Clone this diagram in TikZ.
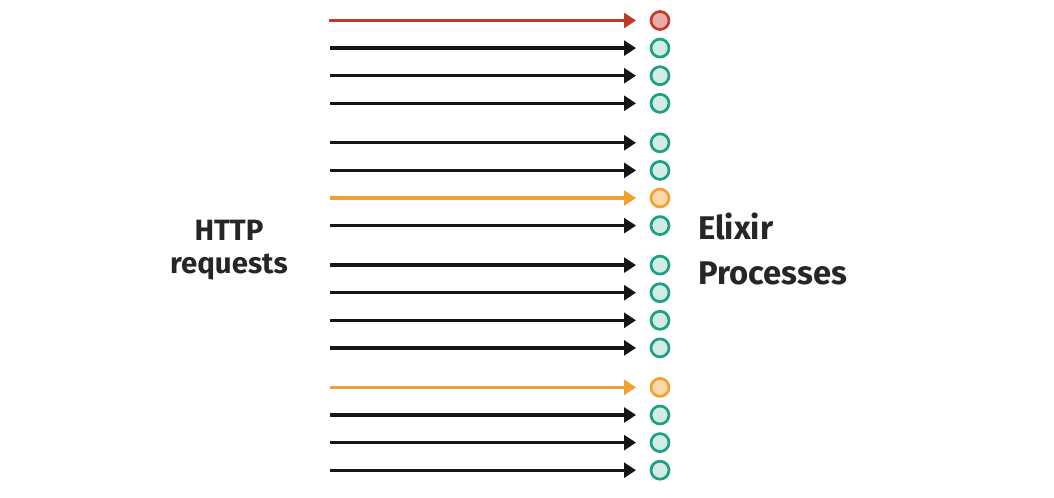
\documentclass[tikz,border=0pt]{standalone}
\usepackage{fontspec}
\setmainfont{Fira Sans}
\usetikzlibrary{arrows.meta}

\definecolor{reqblack}{RGB}{22,22,22}
\definecolor{failred}{RGB}{192,57,43}
\definecolor{failredfill}{RGB}{232,172,168}
\definecolor{slowamber}{RGB}{241,160,45}
\definecolor{slowamberfill}{RGB}{251,216,172}
\definecolor{oktea}{RGB}{26,160,132}
\definecolor{okteafill}{RGB}{210,236,228}
\definecolor{labelgray}{RGB}{38,38,38}

\begin{document}
\begin{tikzpicture}[x=0.025cm,y=-0.025cm,
    proc/.style={draw=oktea,fill=okteafill,circle,line width=1.9pt,inner sep=0pt,minimum size=0.45cm},
    procred/.style={proc,draw=failred,fill=failredfill},
    procamber/.style={proc,draw=slowamber,fill=slowamberfill},
    req/.style={draw=reqblack,line width=2.4pt,-{Triangle[length=8.5pt,width=10.5pt]},shorten >=0.34cm},
    reqred/.style={req,draw=failred},
    reqamber/.style={req,draw=slowamber},
    caption/.style={font=\bfseries,text=labelgray,inner sep=0pt}]
        \useasboundingbox (0,0) rectangle (1054,498);

        % processes
        \node[procred] (proc1) at (660,20.5) {};
        \node[proc] (proc2) at (660,48.1) {};
        \node[proc] (proc3) at (660,75.7) {};
        \node[proc] (proc4) at (660,103.3) {};

        \node[proc] (proc5) at (660,142.8) {};
        \node[proc] (proc6) at (660,170.4) {};
        \node[procamber] (proc7) at (660,198.0) {};
        \node[proc] (proc8) at (660,225.6) {};

        \node[proc] (proc9) at (660,265.1) {};
        \node[proc] (proc10) at (660,292.7) {};
        \node[proc] (proc11) at (660,320.3) {};
        \node[proc] (proc12) at (660,347.9) {};

        \node[procamber] (proc13) at (660,387.4) {};
        \node[proc] (proc14) at (660,415.0) {};
        \node[proc] (proc15) at (660,442.6) {};
        \node[proc] (proc16) at (660,470.2) {};

        % request starts
        \coordinate (req1) at (329,20.5);
        \coordinate (req2) at (330,48.1);
        \coordinate (req3) at (330,75.7);
        \coordinate (req4) at (330,103.3);
        \coordinate (req5) at (330,142.8);
        \coordinate (req6) at (330,170.4);
        \coordinate (req7) at (330,198.0);
        \coordinate (req8) at (330,225.6);
        \coordinate (req9) at (330,265.1);
        \coordinate (req10) at (330,292.7);
        \coordinate (req11) at (330,320.3);
        \coordinate (req12) at (330,347.9);
        \coordinate (req13) at (330,387.4);
        \coordinate (req14) at (330,415.0);
        \coordinate (req15) at (330,442.6);
        \coordinate (req16) at (330,470.2);

        \draw[reqred] (req1) -- (proc1);
        \draw[req] (req2) -- (proc2);
        \draw[req] (req3) -- (proc3);
        \draw[req] (req4) -- (proc4);
        \draw[req] (req5) -- (proc5);
        \draw[req] (req6) -- (proc6);
        \draw[reqamber] (req7) -- (proc7);
        \draw[req] (req8) -- (proc8);
        \draw[req] (req9) -- (proc9);
        \draw[req] (req10) -- (proc10);
        \draw[req] (req11) -- (proc11);
        \draw[req] (req12) -- (proc12);
        \draw[reqamber] (req13) -- (proc13);
        \draw[req] (req14) -- (proc14);
        \draw[req] (req15) -- (proc15);
        \draw[req] (req16) -- (proc16);

        % labels
        \node[caption,align=center,font=\bfseries\fontsize{20.9}{24}\selectfont] (http) at (229,250) {HTTP\\requests};
        \node[caption,align=left,anchor=west,font=\bfseries\fontsize{23.3}{32}\selectfont] (elixir) at (698,249) {Elixir\\Processes};
    \end{tikzpicture}
\end{document}
